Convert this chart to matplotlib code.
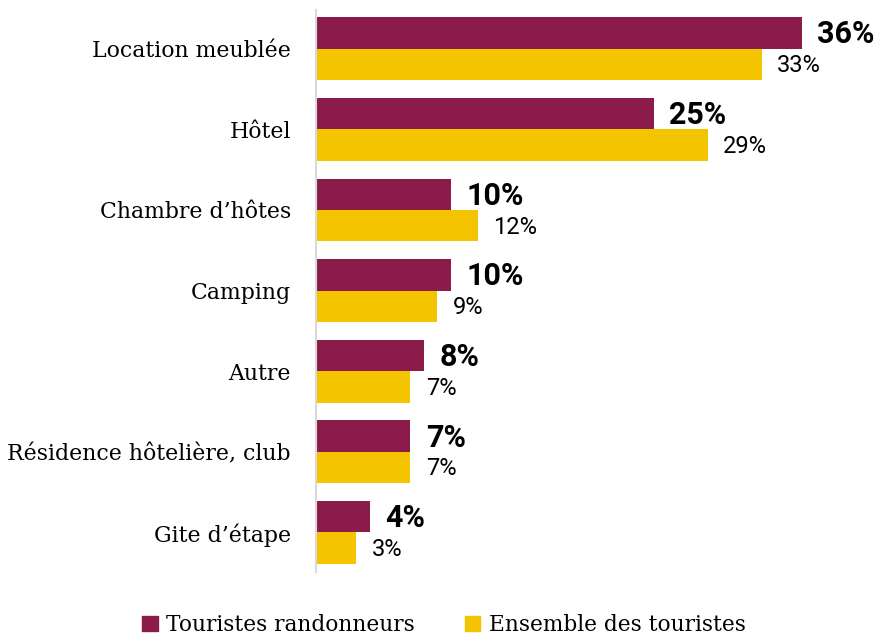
import matplotlib
matplotlib.use("Agg")
import matplotlib.pyplot as plt
from matplotlib.patches import Patch
import numpy as np

categories = ["Location meublée", "Hôtel", "Chambre d’hôtes", "Camping", "Autre",
              "Résidence hôtelière, club", "Gite d’étape"]
randonneurs = [36, 25, 10, 10, 8, 7, 4]
ensemble = [33, 29, 12, 9, 7, 7, 3]
series_names = ["Touristes randonneurs", "Ensemble des touristes"]

purple = "#8A1B4A"
yellow = "#F5C400"
serif = ["DejaVu Serif"]
sans = ["Roboto", "DejaVu Sans"]

fig = plt.figure(figsize=(8.79, 6.35), dpi=100)
W, H = 879, 635
left, right, top, bottom = 316, 856, 10, 572
ax = fig.add_axes([left / W, 1 - bottom / H, (right - left) / W, (bottom - top) / H])

y = np.arange(len(categories))
bh = 0.39
ax.barh(y - bh / 2, randonneurs, height=bh, color=purple)
ax.barh(y + bh / 2, ensemble, height=bh, color=yellow)

for i, (a, b) in enumerate(zip(randonneurs, ensemble)):
    ax.annotate(f"{a}%", (a, i - bh / 2), xytext=(11, -1), textcoords="offset points",
                va="center", ha="left", fontsize=22, fontweight="bold", family=sans)
    ax.annotate(f"{b}%", (b, i + bh / 2), xytext=(11, -1), textcoords="offset points",
                va="center", ha="left", fontsize=17, family=sans)

ax.set_xlim(0, 40)
ax.set_ylim(6.49, -0.48)
ax.set_yticks(y)
ax.set_yticklabels(categories, family=serif, fontsize=15.8)
ax.tick_params(axis="y", length=0, pad=18)
ax.set_xticks([])
for s in ["top", "right", "bottom"]:
    ax.spines[s].set_visible(False)
ax.spines["left"].set_color("#D9D9D9")
ax.spines["left"].set_linewidth(1.5)

handles = [Patch(color=purple), Patch(color=yellow)]
fig.legend(handles, series_names, loc="center", bbox_to_anchor=(444 / W, 1 - 625 / H),
           ncol=2, frameon=False, handlelength=0.7, handleheight=0.7, handletextpad=0.4,
           columnspacing=2.3, prop={"family": serif, "size": 15.6})

fig.savefig("out.png", dpi=100)
